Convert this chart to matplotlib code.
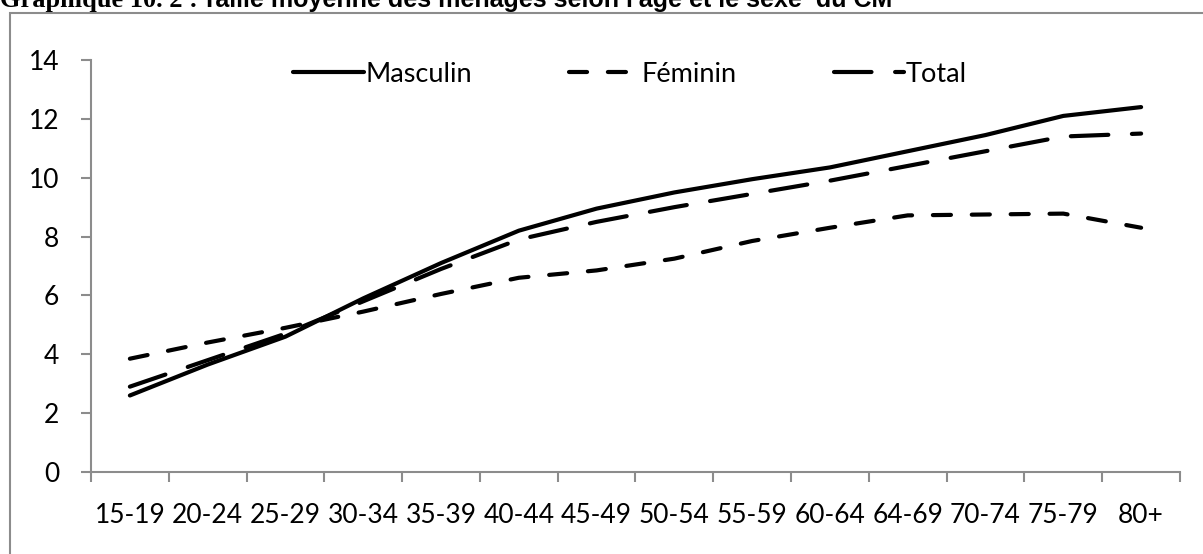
import matplotlib.pyplot as plt
from matplotlib.patches import Rectangle

age_groups = ["15-19", "20-24", "25-29", "30-34", "35-39", "40-44", "45-49",
              "50-54", "55-59", "60-64", "64-69", "70-74", "75-79", "80+"]
masculin = [2.6, 3.65, 4.6, 5.9, 7.1, 8.2, 8.95, 9.5, 9.95, 10.35, 10.9, 11.45, 12.1, 12.4]
feminin = [3.85, 4.4, 4.9, 5.45, 6.05, 6.6, 6.85, 7.25, 7.85, 8.3, 8.72, 8.75, 8.78, 8.3]
total = [2.9, 3.8, 4.7, 5.8, 6.9, 7.9, 8.5, 9.0, 9.45, 9.9, 10.4, 10.9, 11.4, 11.5]

title = "Graphique 10. 2 :"
title_rest = "Taille moyenne des ménages selon l'âge et le sexe  du CM"

plt.rcParams['font.family'] = ['Lato', 'DejaVu Sans']
plt.rcParams['lines.scale_dashes'] = False

W, H = 1203, 554
fig = plt.figure(figsize=(W / 100, H / 100), dpi=100)

# outer chart frame
fig.patches.append(Rectangle((10 / W, -0.1), 1.2, 1.1 - 13 / H, transform=fig.transFigure,
                             fill=False, edgecolor='#8c8c8c', linewidth=1.5))

# title, cut off at the top like in the source
fig.text(0, 1 - 7 / H, title, fontsize=19, fontweight='bold',
         family='Liberation Serif', va='baseline', ha='left')
fig.text(202 / W, 1 - 7 / H, title_rest, fontsize=18, fontweight='bold',
         family='Liberation Sans', va='baseline', ha='left')

ax = fig.add_axes([91 / W, (H - 472) / H, (1180 - 91) / W, (472 - 60) / H])
x = list(range(len(age_groups)))

ax.plot(x, masculin, color='black', linewidth=3, solid_capstyle='round', label='Masculin')
ax.plot(x, feminin, color='black', linewidth=3, dashes=(13, 15), dash_capstyle='round',
        label='Féminin')
ax.plot(x, total, color='black', linewidth=3, dashes=(27, 17), dash_capstyle='round',
        label='Total')

ax.set_xlim(-0.5, len(age_groups) - 0.5)
ax.set_ylim(0, 14)
ax.set_yticks(range(0, 15, 2))

# ticks between categories, labels centred on them
ax.set_xticks([i - 0.5 for i in range(len(age_groups) + 1)])
ax.set_xticklabels([])
ax.set_xticks(x, minor=True)
ax.set_xticklabels(age_groups, minor=True)

for s in ['top', 'right']:
    ax.spines[s].set_visible(False)
for s in ['left', 'bottom']:
    ax.spines[s].set_color('#8c8c8c')
    ax.spines[s].set_linewidth(1.5)

ax.tick_params(axis='y', which='major', length=7, width=1.5, color='#8c8c8c',
               labelsize=19, pad=16)
ax.tick_params(axis='x', which='major', length=7, width=1.5, color='#8c8c8c')
ax.tick_params(axis='x', which='minor', length=0, labelsize=19, pad=22)

ax.legend(loc='upper center', bbox_to_anchor=(0.495, 1.055), ncol=3, frameon=False,
          fontsize=19.5, handlelength=2.6, handletextpad=0.05, columnspacing=3.6)

fig.savefig('out.png', dpi=100)
